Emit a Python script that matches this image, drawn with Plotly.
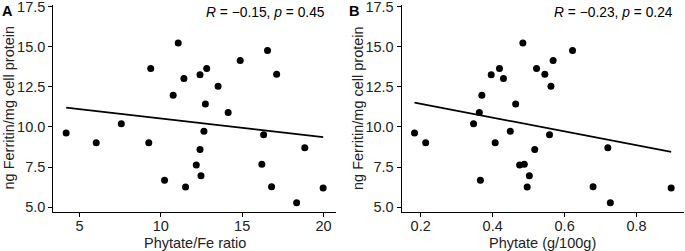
import numpy as np
import plotly.graph_objects as go

# ---- data ----
ferritin = [15.25, 14.78, 14.15, 13.66, 13.65, 13.30, 13.27, 13.03, 12.55, 11.98,
            11.44, 10.90, 10.20, 9.73, 9.62, 9.52, 9.02, 9.02, 8.70, 8.59,
            7.67, 7.62, 6.96, 6.67, 6.27, 6.25, 6.19, 5.27]
phytate_fe_ratio = [11.07, 16.56, 14.88, 9.38, 12.82, 17.12, 12.41, 11.42, 13.52, 10.76,
                    12.74, 14.14, 7.57, 12.65, 4.18, 16.32, 6.03, 9.26, 18.85, 12.41,
                    16.21, 12.18, 12.47, 10.23, 16.81, 11.52, 19.98, 18.35]
phytate = [0.484, 0.622, 0.568, 0.419, 0.522, 0.545, 0.396, 0.430, 0.562, 0.370,
           0.464, 0.363, 0.347, 0.449, 0.183, 0.558, 0.214, 0.407, 0.720, 0.517,
           0.488, 0.475, 0.502, 0.366, 0.679, 0.496, 0.896, 0.727]
labels_cor = ["<i>R</i> = \u22120.15, <i>p</i> = 0.45", "<i>R</i> = \u22120.23, <i>p</i> = 0.24"]
x_titles = ["Phytate/Fe ratio", "Phytate (g/100g)"]
y_title = "ng Ferritin/mg cell protein"
panel_tags = ["A", "B"]
y_ticks = [5.0, 7.5, 10.0, 12.5, 15.0, 17.5]
x_ticks_a = [5, 10, 15, 20]
x_ticks_b = [0.2, 0.4, 0.6, 0.8]

W, H = 685, 251
FONT = "Liberation Sans, Arial, sans-serif"

fig = go.Figure()

def add_panel(xv, idx):
    xs = "x" if idx == 1 else "x2"
    ys = "y" if idx == 1 else "y2"
    fig.add_trace(go.Scatter(x=xv, y=ferritin, mode="markers",
                             marker=dict(color="black", size=7),
                             xaxis=xs, yaxis=ys, showlegend=False, hoverinfo="x+y"))
    slope, icpt = np.polyfit(xv, ferritin, 1)
    lx = np.array([min(xv), max(xv)])
    fig.add_trace(go.Scatter(x=lx, y=slope * lx + icpt, mode="lines",
                             line=dict(color="black", width=1.7),
                             xaxis=xs, yaxis=ys, showlegend=False, hoverinfo="skip"))

add_panel(phytate_fe_ratio, 1)
add_panel(phytate, 2)

def xr(v):
    lo, hi = min(v), max(v)
    e = (hi - lo) * 0.05
    return [lo - e, hi + e]

axis_common = dict(showgrid=False, zeroline=False, showline=True, linecolor="black",
                   linewidth=1.2, ticks="outside", ticklen=4, tickwidth=1.1,
                   tickcolor="black", tickfont=dict(family=FONT, size=14.5, color="#222"),
                   automargin=False, ticklabeloverflow="allow")

top_px, bot_px = 5, 212
ydom = [1 - bot_px / H, 1 - top_px / H]
yrange = [4.69, 17.62]

fig.update_layout(
    width=W, height=H, margin=dict(l=0, r=0, t=0, b=0),
    paper_bgcolor="white", plot_bgcolor="white",
    xaxis=dict(domain=[53.3 / W, 336 / W], range=xr(phytate_fe_ratio),
               tickvals=x_ticks_a, ticklabelstandoff=-4, **axis_common),
    yaxis=dict(domain=ydom, range=yrange, tickvals=y_ticks, tickformat=".1f", **axis_common),
    xaxis2=dict(domain=[401.7 / W, 684 / W], range=xr(phytate),
                tickvals=x_ticks_b, tickformat=".1f", anchor="y2", ticklabelstandoff=-4,
                **axis_common),
    yaxis2=dict(domain=ydom, range=yrange, tickvals=y_ticks, tickformat=".1f",
                anchor="x2", **axis_common),
)

ann = []
# correlation labels
for i, lab in enumerate(labels_cor):
    ax = "x" if i == 0 else "x2"
    ann.append(dict(text=lab, xref=ax + " domain", yref="paper",
                    x=1, xshift=-9, y=1 - 13 / H, xanchor="right", yanchor="middle",
                    showarrow=False, font=dict(family=FONT, size=13.8, color="black")))
# axis titles
for cx, t in zip([194.7, 542.9], x_titles):
    ann.append(dict(text=t, xref="paper", yref="paper", x=cx / W, y=1 - 242.5 / H,
                    xanchor="center", yanchor="middle", showarrow=False,
                    font=dict(family=FONT, size=14.5, color="#222")))
for cx in [8.5, 358]:
    ann.append(dict(text=y_title, xref="paper", yref="paper", x=cx / W, y=1 - 108 / H,
                    xanchor="center", yanchor="middle", textangle=-90, showarrow=False,
                    font=dict(family=FONT, size=14.5, color="#222")))
# panel tags
for cx, t in zip([7.5, 353.5], panel_tags):
    ann.append(dict(text="<b>%s</b>" % t, xref="paper", yref="paper", x=cx / W,
                    y=1 - 11.5 / H, xanchor="center", yanchor="middle", showarrow=False,
                    font=dict(family=FONT, size=14.5, color="black")))
fig.update_layout(annotations=ann)

fig.write_html("out.html", config={"displayModeBar": False},
               post_script="document.body.style.margin='0';document.body.style.overflow='hidden';")
